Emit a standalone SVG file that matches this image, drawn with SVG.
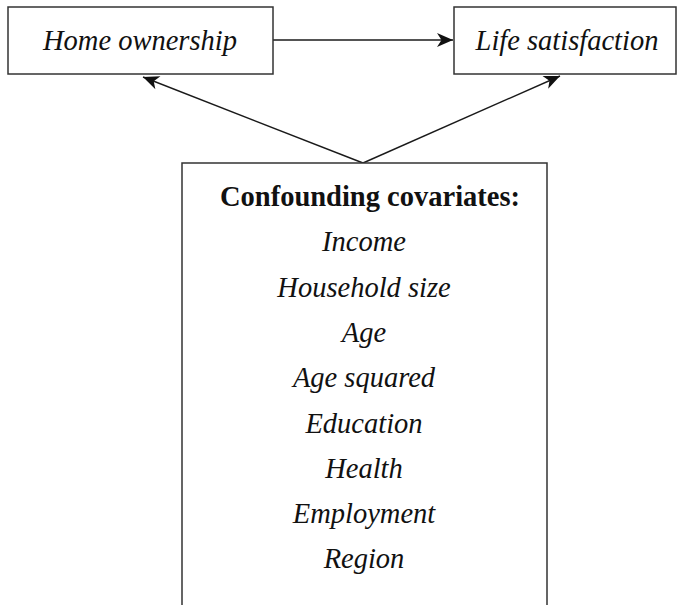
<svg xmlns="http://www.w3.org/2000/svg" width="678" height="605" viewBox="0 0 678 605">
<style>
.box{fill:#fff;stroke:#333;stroke-width:1.5}
.edge{fill:none;stroke:#1a1a1a;stroke-width:1.4}
.lab{font-family:"Liberation Serif","Times New Roman",serif;font-size:28.5px;fill:#111;text-anchor:middle}
.it{font-style:italic}
.bd{font-weight:bold}
</style>
<defs>
<marker id="ah" viewBox="-17 -8 18 16" refX="0" refY="0" markerWidth="18" markerHeight="16" markerUnits="userSpaceOnUse" orient="auto">
<path d="M0,0 L-16,-7 L-11.5,0 L-16,7 Z" fill="#111"/>
</marker>
</defs>
<g id="connectors">
<line class="edge" x1="273" y1="40" x2="453" y2="40" marker-end="url(#ah)"/>
<line class="edge" x1="363" y1="163" x2="143" y2="77" marker-end="url(#ah)"/>
<line class="edge" x1="363" y1="163" x2="560" y2="76" marker-end="url(#ah)"/>
</g>
<g id="home">
<rect class="box" x="8" y="7" width="265" height="67"/>
<text class="lab it" x="140" y="50">Home ownership</text>
</g>
<g id="life">
<rect class="box" x="454" y="7" width="222" height="67"/>
<text class="lab it" x="567" y="50">Life satisfaction</text>
</g>
<g id="covariates">
<path class="box" d="M182,607 V163 H547 V607"/>
<text class="lab bd" x="370" y="206">Confounding covariates:</text>
<text class="lab it" x="364" y="251.3">Income</text>
<text class="lab it" x="364" y="296.6">Household size</text>
<text class="lab it" x="364" y="341.9">Age</text>
<text class="lab it" x="364" y="387.2">Age squared</text>
<text class="lab it" x="364" y="432.5">Education</text>
<text class="lab it" x="364" y="477.8">Health</text>
<text class="lab it" x="364" y="523.1">Employment</text>
<text class="lab it" x="364" y="568.4">Region</text>
</g>
</svg>
